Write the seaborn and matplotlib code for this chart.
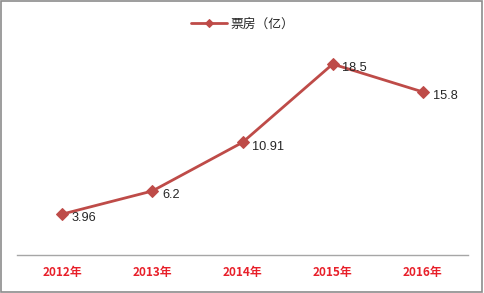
import matplotlib
matplotlib.use("Agg")
import matplotlib.pyplot as plt
import seaborn as sns
import pandas as pd
from matplotlib.patches import Rectangle

years = ["2012年", "2013年", "2014年", "2015年", "2016年"]
box_office = [3.96, 6.2, 10.91, 18.5, 15.8]
value_labels = ["3.96", "6.2", "10.91", "18.5", "15.8"]
series_name = "票房（亿）"

sns.set_theme(style="white")
plt.rcParams['font.family'] = ['Noto Sans CJK SC', 'DejaVu Sans']

df = pd.DataFrame({"year": years, "value": box_office, "series": series_name})

fig = plt.figure(figsize=(4.84, 2.93), dpi=100)
ax = fig.add_axes([17/484, 1-255/293, 451/484, (255-48.6)/293])

color = "#BE4B48"
sns.lineplot(data=df, x="year", y="value", hue="series", palette=[color],
             marker="D", markersize=6.5, markeredgecolor=color, linewidth=2.0,
             sort=False, ax=ax)

ax.set_xlim(-0.5, 4.5)
ax.set_ylim(0, 20)
ax.set_xlabel("")
ax.set_ylabel("")
ax.set_yticks([])
for s in ["top", "right", "left"]:
    ax.spines[s].set_visible(False)
ax.spines["bottom"].set_color("#A6A6A6")
ax.spines["bottom"].set_linewidth(1)
ax.tick_params(axis="x", length=0, pad=8)
for lab in ax.get_xticklabels():
    lab.set_color("#E8202A")
    lab.set_fontweight("bold")
    lab.set_fontsize(8.5)

for i, (v, t) in enumerate(zip(box_office, value_labels)):
    ax.annotate(t, (i, v), xytext=(7, -3), textcoords="offset points",
                fontsize=9.2, color="#262626", va="center", ha="left",
                family=['Liberation Sans', 'DejaVu Sans'])

leg = ax.legend(loc="upper center", bbox_to_anchor=(0.5, 1.0 + 36/206), frameon=False,
                fontsize=9.2, handlelength=2.8, handletextpad=0.3, borderaxespad=0)
for h in leg.get_lines():
    h.set_markersize(4)

fig.patches.append(Rectangle((0.003, 0.005), 0.992, 0.99, transform=fig.transFigure,
                             fill=False, edgecolor="#8C8C8C", linewidth=1.2))

fig.savefig("out.png", dpi=100)
